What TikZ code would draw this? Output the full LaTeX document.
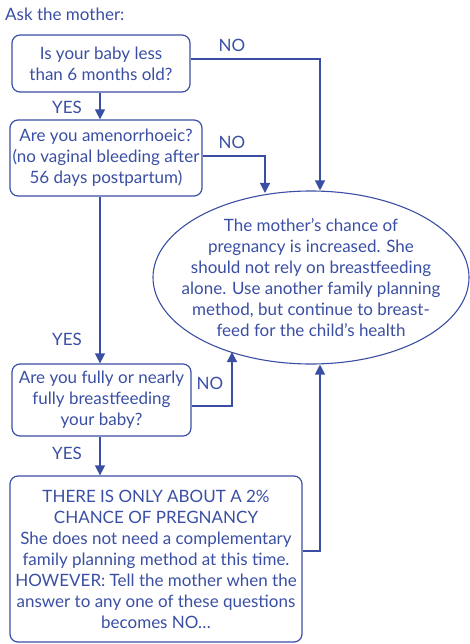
\documentclass[tikz,border=0pt]{standalone}
\usepackage{fontspec}
\setmainfont{Lato}
\usetikzlibrary{arrows.meta,shapes.geometric}
\definecolor{fblue}{HTML}{3A4FA3}
\tikzset{
  qbox/.style={draw=fblue,line width=1.2pt,rounded corners=8pt,align=center,text=fblue,inner sep=0pt,font=\fontsize{17}{21}\selectfont},
  lbl/.style={text=fblue,font=\fontsize{17}{21}\selectfont,inner sep=0pt},
  arr/.style={draw=fblue,line width=1.2pt,-{Triangle[width=10pt,length=10pt]}},
  ln/.style={draw=fblue,line width=1.2pt}
}
\begin{document}
\begin{tikzpicture}[x=1pt,y=-1pt]
\useasboundingbox (0,0) rectangle (470,644);
\node[lbl,anchor=west] (ask) at (5,14) {Ask the mother:};
\node[qbox,minimum width=178pt,minimum height=57pt] (b1) at (101,63.5) {Is your baby less\\than 6 months old?};
\node[qbox,minimum width=192pt,minimum height=76pt] (b2) at (106,158) {Are you amenorrhoeic?\\(no vaginal bleeding after\\56 days postpartum)};
\node[qbox,minimum width=179pt,minimum height=72pt] (b3) at (101.5,400) {Are you fully or nearly\\fully breastfeeding\\your baby?};
\node[qbox,minimum width=292pt,minimum height=166pt] (b4) at (156,559) {THERE IS ONLY ABOUT A 2\%\\CHANCE OF PREGNANCY\\She does not need a complementary\\family planning method at this time.\\HOWEVER: Tell the mother when the\\answer to any one of these questions\\becomes NO\dots};
\node[draw=fblue,line width=1.1pt,ellipse,minimum width=316pt,minimum height=173pt,inner sep=0pt,
  label={[lbl,align=center]center:The mother’s chance of\\pregnancy is increased. She\\should not rely on breastfeeding\\alone. Use another family planning\\method, but continue to breast-\\feed for the child’s health}] (el) at (311,277.5) {};
\coordinate (col) at (100,0);
% YES arrows
\draw[arr] (b1.south -| col) -- (b2.north -| col);
\draw[arr] (b2.south -| col) -- (b3.north -| col);
\draw[arr] (b3.south -| col) -- (b4.north -| col);
\node[lbl] (y1) at (67,107) {YES};
\node[lbl] (y2) at (67,339) {YES};
\node[lbl] (y3) at (67,453) {YES};
% NO arrows
\coordinate (c1) at (320,59);
\draw[arr] (b1.east |- c1) -- (c1) -- (c1 |- el.north);
\coordinate (c2) at (265,156);
\coordinate (e2) at (265,193);
\draw[arr] (b2.east |- c2) -- (c2) -- (e2);
\coordinate (c3) at (232,406);
\coordinate (e3) at (232,352);
\draw[arr] (b3.east |- c3) -- (c3) -- (e3);
\coordinate (c4) at (320,551);
\draw[arr] (b4.east |- c4) -- (c4) -- (c4 |- el.south);
\node[lbl] (n1) at (232,45) {NO};
\node[lbl] (n2) at (232,142) {NO};
\node[lbl] (n3) at (210,383) {NO};
\end{tikzpicture}
\end{document}
